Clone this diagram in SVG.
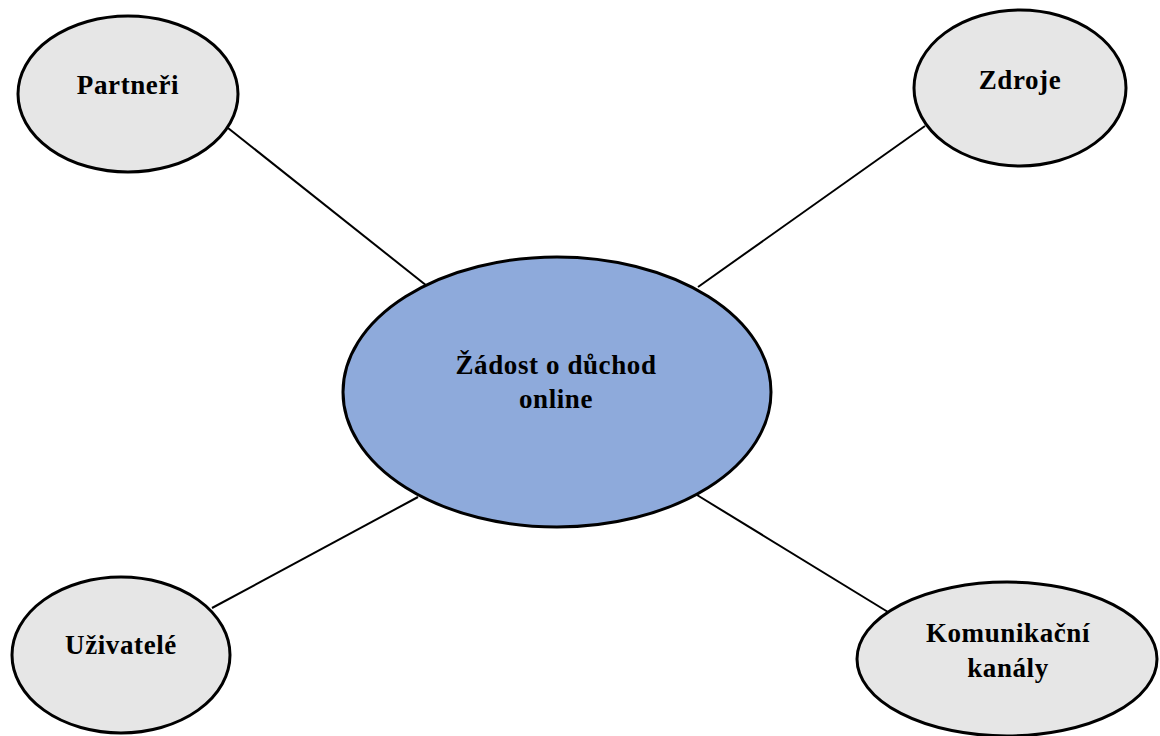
<svg xmlns="http://www.w3.org/2000/svg" width="1160" height="736" viewBox="0 0 1160 736">
<style>
.node{fill:#e6e6e6;stroke:#000;stroke-width:3}
.main{fill:#8eaadb;stroke:#000;stroke-width:3}
.lbl{font-family:"Liberation Serif","Times New Roman",serif;font-weight:bold;font-size:27px;letter-spacing:0.6px;fill:#000;text-anchor:middle}
.conn line{stroke:#000;stroke-width:2}
</style>
<rect width="1160" height="736" fill="#fff"/>
<g class="conn" id="connectors">
<line x1="228" y1="128" x2="427" y2="286"/>
<line x1="925" y1="126" x2="698" y2="287"/>
<line x1="418" y1="497" x2="212" y2="608"/>
<line x1="697" y1="495" x2="888" y2="612"/>
</g>
<g id="partneri">
<ellipse class="node" cx="128" cy="94" rx="110" ry="78"/>
<text class="lbl" x="128" y="94">Partneři</text>
</g>
<g id="zdroje">
<ellipse class="node" cx="1020" cy="88" rx="106" ry="78"/>
<text class="lbl" x="1020" y="89">Zdroje</text>
</g>
<g id="uzivatele">
<ellipse class="node" cx="121" cy="655" rx="109" ry="78"/>
<text class="lbl" x="121" y="654">Uživatelé</text>
</g>
<g id="kanaly">
<ellipse class="node" cx="1007" cy="659" rx="150" ry="77"/>
<text class="lbl" x="1008" y="642">Komunikační</text>
<text class="lbl" x="1008" y="677">kanály</text>
</g>
<g id="center">
<ellipse class="main" cx="557" cy="392" rx="214" ry="135"/>
<text class="lbl" x="556" y="374">Žádost o důchod</text>
<text class="lbl" x="556" y="408">online</text>
</g>
</svg>
